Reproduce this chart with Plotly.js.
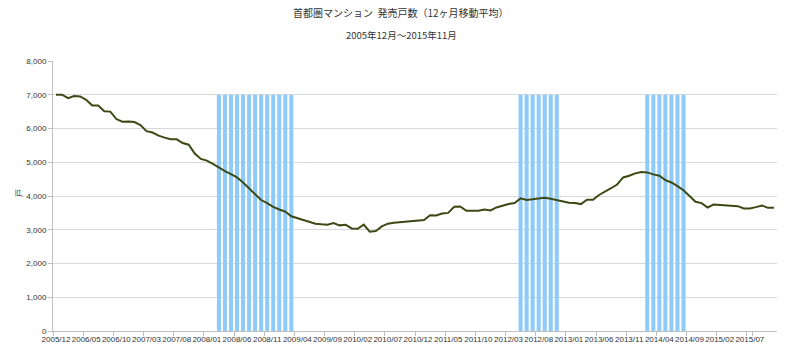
<!DOCTYPE html>
<html>
<head>
<meta charset="utf-8">
<script src="https://cdn.plot.ly/plotly-3.0.1.min.js"></script>
<style>
html,body{margin:0;padding:0;background:#fff;}
#chart{width:800px;height:360px;}
</style>
</head>
<body>
<div id="chart"></div>
<script>
// Month labels 2005/12 .. 2015/11
var months = [];
(function(){
  var y = 2005, m = 12;
  for (var i = 0; i < 120; i++) {
    months.push(y + '/' + (m < 10 ? '0' + m : m));
    m++; if (m > 12) { m = 1; y++; }
  }
})();

// 12-month moving average of condo units launched (戸)
var supply = [
  7000, 7000, 6900, 6960, 6950, 6850, 6680, 6680, 6510, 6500,
  6280, 6200, 6210, 6190, 6100, 5920, 5880, 5790, 5730, 5680,
  5680, 5570, 5520, 5260, 5100, 5050, 4950, 4840, 4740, 4650,
  4550, 4400, 4220, 4050, 3880, 3790, 3680, 3600, 3540, 3400,
  3340, 3300, 3240, 3180, 3160, 3150, 3200, 3130, 3150, 3040,
  3030, 3150, 2940, 2960, 3100, 3180, 3210, 3230, 3250, 3260,
  3270, 3290, 3430, 3420, 3480, 3500, 3680, 3690, 3560, 3550,
  3560, 3600, 3570, 3660, 3720, 3760, 3790, 3930, 3880, 3910,
  3920, 3950, 3920, 3880, 3820, 3800, 3790, 3760, 3890, 3890,
  4030, 4120, 4230, 4340, 4550, 4600, 4670, 4710, 4700, 4640,
  4600, 4470, 4400, 4290, 4170, 4000, 3830, 3790, 3660, 3750,
  3740, 3730, 3720, 3700, 3630, 3630, 3670, 3720, 3650, 3650
];

// Shaded (striped) periods
var shadedMonths = [
  '2008/03','2008/04','2008/05','2008/06','2008/07','2008/08','2008/09',
  '2008/10','2008/11','2008/12','2009/01','2009/02','2009/03',
  '2012/05','2012/06','2012/07','2012/08','2012/09','2012/10','2012/11',
  '2014/02','2014/03','2014/04','2014/05','2014/06','2014/07','2014/08'
];
var shadedLevel = 7000;
var shadedValues = shadedMonths.map(function(){ return shadedLevel; });

var yTicks = [0, 1000, 2000, 3000, 4000, 5000, 6000, 7000, 8000];

var bars = {
  type: 'bar',
  x: shadedMonths,
  y: shadedValues,
  marker: {color: '#8ecbfb', line: {width: 0}},
  hoverinfo: 'skip',
  showlegend: false
};
var line = {
  type: 'scatter',
  mode: 'lines',
  x: months,
  y: supply,
  line: {color: '#3b4a14', width: 2},
  showlegend: false
};

var labelFont = {family: 'Liberation Sans, Arial, sans-serif', size: 8, color: '#333333'};

var layout = {
  width: 800,
  height: 360,
  margin: {l: 53, r: 23, t: 61, b: 29},
  paper_bgcolor: '#ffffff',
  plot_bgcolor: '#ffffff',
  bargap: 0.33,
  showlegend: false,
  xaxis: {
    type: 'category',
    categoryorder: 'array',
    categoryarray: months,
    range: [-0.5, 119.5],
    tickson: 'boundaries',
    tickmode: 'array',
    tickvals: months.filter(function(_, i){ return i % 5 === 0; }),
    ticks: 'outside',
    ticklen: 4,
    tickcolor: '#bfbfbf',
    tickangle: 0,
    tickfont: labelFont,
    showgrid: false,
    showline: true,
    linecolor: '#bfbfbf',
    linewidth: 1,
    mirror: false,
    zeroline: false
  },
  yaxis: {
    range: [0, 8000],
    tickmode: 'array',
    tickvals: yTicks,
    tickformat: ',d',
    ticks: 'outside',
    ticklen: 4,
    tickcolor: '#bfbfbf',
    tickfont: labelFont,
    showgrid: true,
    gridcolor: '#d9d9d9',
    gridwidth: 1,
    showline: true,
    linecolor: '#bfbfbf',
    linewidth: 1,
    zeroline: false
  },
  annotations: [
    {text: '首都圏マンション  発売戸数（12ヶ月移動平均）', xref: 'paper', yref: 'paper',
     x: 0.4807, y: 1, yshift: 49, xanchor: 'center', yanchor: 'middle', showarrow: false,
     font: {family: 'Noto Sans CJK JP, sans-serif', size: 10, color: '#333333'}},
    {text: '2005年12月～2015年11月', xref: 'paper', yref: 'paper',
     x: 0.4807, y: 1, yshift: 26, xanchor: 'center', yanchor: 'middle', showarrow: false,
     font: {family: 'Noto Sans CJK JP, sans-serif', size: 9.5, color: '#333333'}},
    {text: '戸', xref: 'paper', yref: 'paper', x: 0, xshift: -35, y: 0.5, yshift: 3,
     xanchor: 'center', yanchor: 'middle', showarrow: false, textangle: -90,
     font: {family: 'Noto Sans CJK JP, sans-serif', size: 8, color: '#333333'}}
  ]
};

Plotly.newPlot('chart', [bars, line], layout, {displayModeBar: false, staticPlot: true});
</script>
</body>
</html>
